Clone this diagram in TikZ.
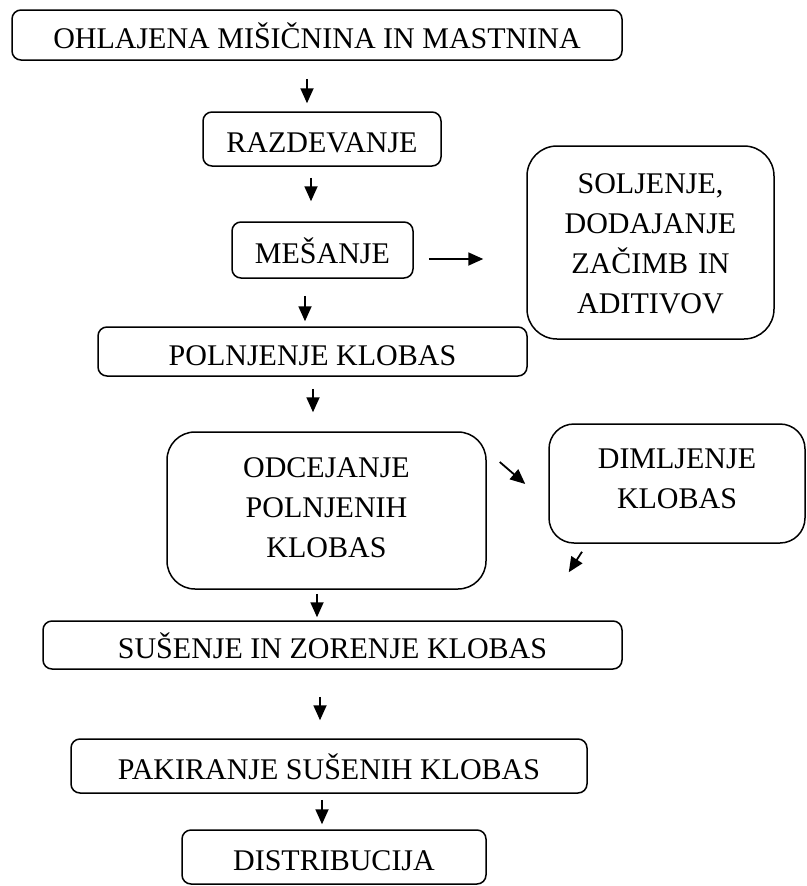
\documentclass[tikz,border=0pt]{standalone}
\usepackage{fontspec}
\setmainfont{Liberation Serif}
\usetikzlibrary{arrows.meta}

\tikzset{
  korak/.style={draw, line width=1.5pt, rounded corners=9pt, inner sep=0pt,
    font=\fontsize{30}{40}\selectfont, text height=27pt, text depth=0pt},
  puscica/.style={-{Triangle[length=15pt,width=13pt]}, line width=1.8pt}
}

\begin{document}
\begin{tikzpicture}[x=1pt,y=-1pt]
    \useasboundingbox (0,0) rectangle (806,886);
    %main line
    \node[korak, minimum width=610pt, minimum height=50pt] (ohl) at (317,35) {OHLAJENA MIŠIČNINA IN MASTNINA};
    \node[korak, minimum width=238pt, minimum height=54pt] (razd) at (322,139) {RAZDEVANJE};
    \node[korak, minimum width=181pt, minimum height=56pt] (mes) at (322.5,250) {MEŠANJE};
    \node[korak, minimum width=429pt, minimum height=49pt] (poln) at (312.5,351.5) {POLNJENJE KLOBAS};
    \node[korak, rounded corners=28pt, minimum width=319pt, minimum height=157pt,
          text width=280pt, align=center, text depth=94pt] (odc) at (326.5,510.5) {ODCEJANJE\\POLNJENIH\\KLOBAS};
    \node[korak, minimum width=579pt, minimum height=48pt] (sus) at (332.5,645) {SUŠENJE IN ZORENJE KLOBAS};
    \node[korak, minimum width=516pt, minimum height=54pt] (pak) at (329,766) {PAKIRANJE SUŠENIH KLOBAS};
    \node[korak, minimum width=304pt, minimum height=54pt] (dist) at (334,857) {DISTRIBUCIJA};
    %side steps
    \node[korak, rounded corners=30pt, minimum width=247pt, minimum height=193pt,
          text width=230pt, align=center, text depth=126pt] (sol) at (650.5,242.5) {SOLJENJE,\\DODAJANJE\\ZAČIMB IN\\ADITIVOV};
    \node[korak, rounded corners=25pt, minimum width=256pt, minimum height=119pt,
          text width=220pt, align=center, text depth=58pt] (dim) at (677,483.5) {DIMLJENJE\\KLOBAS};
    %arrows
    \draw[puscica, shorten <=18pt, shorten >=8pt] ([xshift=-10pt]ohl.south) -- ([xshift=-15pt]razd.north);
    \draw[puscica, shorten <=11pt, shorten >=20pt] ([xshift=-11pt]razd.south) -- ([xshift=-11.5pt]mes.north);
    \draw[puscica, shorten <=17pt, shorten >=5pt] ([xshift=-17.5pt]mes.south) -- ([xshift=-7.5pt]poln.north);
    \draw[puscica, shorten <=12pt, shorten >=19pt] ([xshift=0.5pt]poln.south) -- ([xshift=-13.5pt]odc.north);
    \draw[puscica, shorten <=4pt, shorten >=3pt] ([xshift=-9.5pt]odc.south) -- ([xshift=-15.5pt]sus.north);
    \draw[puscica, shorten <=27pt, shorten >=18pt] ([xshift=-12.5pt]sus.south) -- ([xshift=-9pt]pak.north);
    \draw[puscica, shorten <=6pt, shorten >=5pt] ([xshift=-7pt]pak.south) -- ([xshift=-12pt]dist.north);
    \draw[puscica] ([shift={(15,9)}]mes.east) -- ([shift={(-43,16.5)}]sol.west);
    \draw[puscica] ([shift={(13,-48.5)}]odc.east) -- ([shift={(-23,0.5)}]dim.west);
    \draw[puscica] ([shift={(-95,8)}]dim.south) -- ([shift={(-54,-48)}]sus.north east);
\end{tikzpicture}
\end{document}
